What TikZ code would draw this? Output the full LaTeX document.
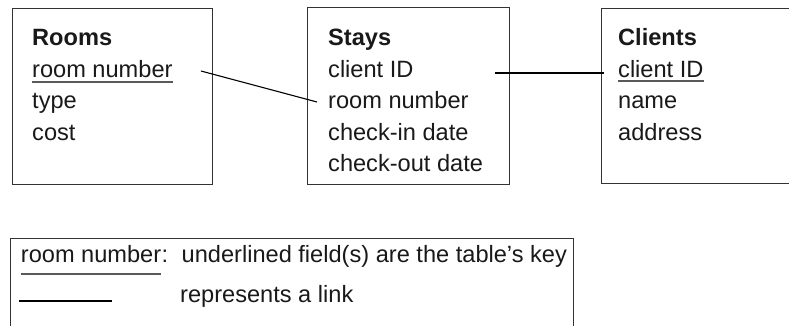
\documentclass[tikz,border=0pt]{standalone}
\usepackage{fontspec}
\setmainfont{Liberation Sans}
\usetikzlibrary{positioning, calc}

\begin{document}
\begin{tikzpicture}[
    x=1pt, y=-1pt,
    font=\fontsize{23.6}{28}\selectfont,
    % Node styles
    tablebox/.style={rectangle, draw=black!80, line width=1.2pt, anchor=north west, inner sep=0pt},
    field/.style={anchor=base west, inner sep=0pt, text=black!90},
    tabletitle/.style={field, font=\fontsize{23.6}{28}\selectfont\bfseries},
    keyline/.style={black!65, line width=1.4pt},
    linkline/.style={black, line width=1.1pt},
]
\useasboundingbox (0,0) rectangle (789,325);
\clip (0,0) rectangle (789,325);

% ============================================================================
% ROOMS TABLE
% ============================================================================
\node[tablebox, minimum width=200, minimum height=176] (roomsbox) at (12,8) {};
\node[tabletitle] (roomstitle) at (32,45.5) {Rooms};
\foreach \txt [count=\i] in {room number, type, cost} {
    \node[field] (rooms\i) at (32,{45.5+31.5*\i}) {\txt};
}
% key field
\draw[keyline] ([yshift=-5pt]rooms1.base west) -- ([yshift=-5pt]rooms1.base east);

% ============================================================================
% STAYS TABLE
% ============================================================================
\node[tablebox, minimum width=202, minimum height=177] (staysbox) at (307,7) {};
\node[tabletitle] (staystitle) at (328,45.5) {Stays};
\foreach \txt [count=\i] in {client ID, room number, check-in date, check-out date} {
    \node[field] (stays\i) at (328,{45.5+31.5*\i}) {\txt};
}

% ============================================================================
% CLIENTS TABLE
% ============================================================================
\node[tablebox, minimum width=220, minimum height=175] (clientsbox) at (601,8) {};
\node[tabletitle] (clientstitle) at (618,45.5) {Clients};
\foreach \txt [count=\i] in {client ID, name, address} {
    \node[field] (clients\i) at (618,{45.5+31.5*\i}) {\txt};
}
% key field
\draw[keyline] ([yshift=-4pt]clients1.base west) -- ([yshift=-4pt]clients1.base east);

% Links between tables
\coordinate (roomfrom) at (201,71);
\coordinate (roomto) at (317,102);
\coordinate (clientfrom) at (495,73);
\coordinate (clientto) at (604,73);
\draw[linkline] (roomfrom) -- (roomto);
\draw[linkline] (clientfrom) -- (clientto);

% ============================================================================
% LEGEND
% ============================================================================
\node[tablebox, minimum width=563, minimum height=110] (keybox) at (10,238) {};
\node[field] (keyname) at (20.7,262) {room number};
\node[field] (keycolon) at (keyname.base east) {:};
\draw[keyline] ([yshift=-12pt]keyname.base west) -- ([yshift=-12pt]keyname.base east);
\node[field] (keytext) at (181.5,262) {underlined field(s) are the table’s key};

\coordinate (samplefrom) at (19,301);
\coordinate (sampleto) at (112,301);
\draw[linkline] (samplefrom) -- (sampleto);
\node[field] (linktext) at (180,302) {represents a link};

\end{tikzpicture}
\end{document}
